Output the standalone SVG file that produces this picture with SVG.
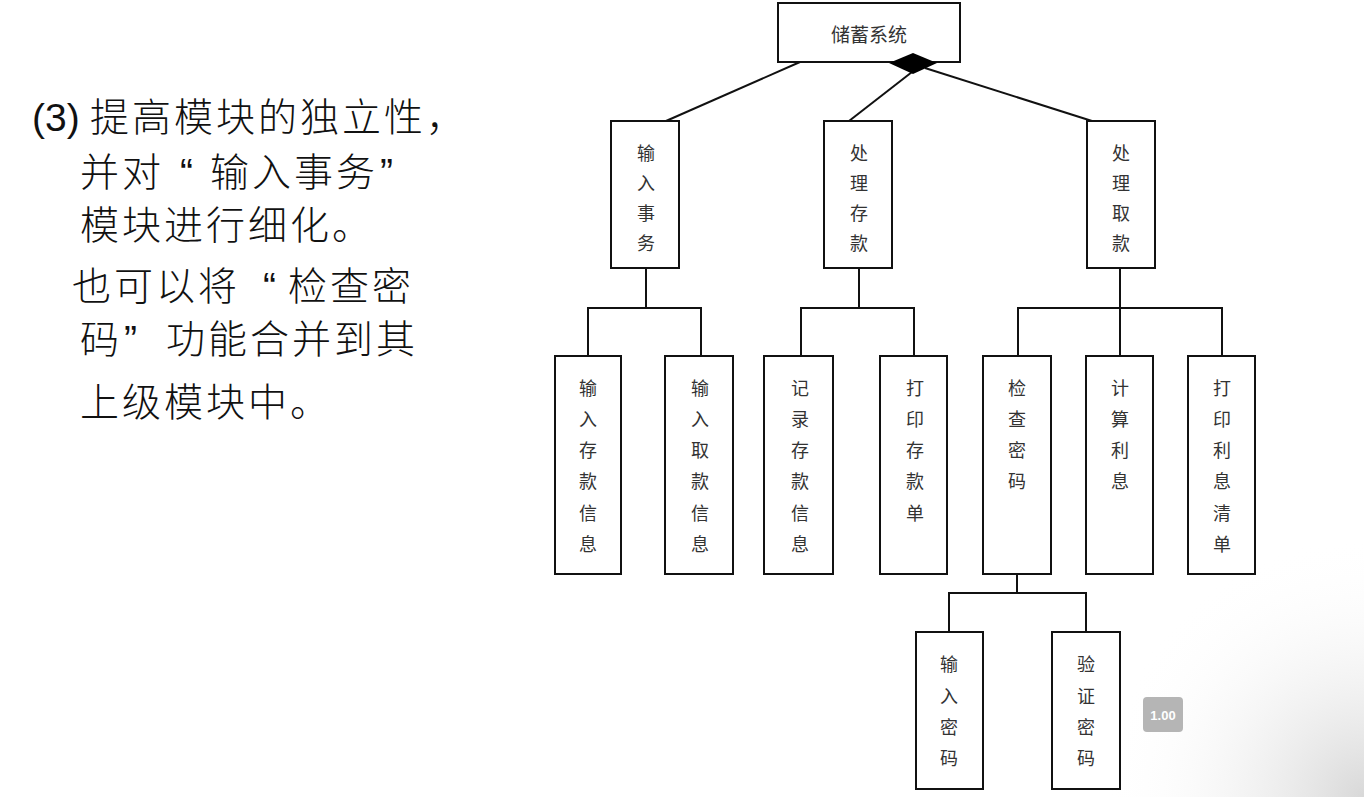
<svg xmlns="http://www.w3.org/2000/svg" width="1364" height="797" viewBox="0 0 1364 797">
<defs>
<style>
.box{fill:#fff;stroke:#111;stroke-width:2}
.ln{fill:none;stroke:#111;stroke-width:2}
.bt{font-family:"Noto Sans CJK SC","Noto Sans",sans-serif;font-size:18px;fill:#333;text-anchor:middle;dominant-baseline:central}
.lt{font-family:"Liberation Sans","Noto Sans CJK SC",sans-serif;font-size:39px;font-weight:300;fill:#111;letter-spacing:3px}
</style>
<radialGradient id="shade" cx="1364" cy="797" r="260" gradientUnits="userSpaceOnUse">
<stop offset="0" stop-color="#d8d8d8"/>
<stop offset="1" stop-color="#ffffff" stop-opacity="0"/>
</radialGradient>
</defs>
<rect width="1364" height="797" fill="#fff"/>
<rect x="1100" y="537" width="264" height="260" fill="url(#shade)"/>

<g id="description">
<text class="lt" x="32" y="131" style="letter-spacing:0">(3)</text>
<text class="lt" x="90" y="131">提高模块的独立性，</text>
<text class="lt" y="186"><tspan x="80">并对</tspan><tspan x="180">“</tspan><tspan x="210">输入事务</tspan><tspan x="380">”</tspan></text>
<text class="lt" x="80" y="239">模块进行细化。</text>
<text class="lt" y="300"><tspan x="72">也可以将</tspan><tspan x="263">“</tspan><tspan x="288">检查密</tspan></text>
<text class="lt" y="353"><tspan x="80">码</tspan><tspan x="124">”</tspan><tspan x="166">功能合并到其</tspan></text>
<text class="lt" x="80" y="416">上级模块中。</text>
</g>

<g id="connectors">
<line class="ln" x1="800" y1="62" x2="666" y2="121"/>
<line class="ln" x1="912" y1="72" x2="849" y2="121"/>
<line class="ln" x1="925" y1="68" x2="1092" y2="121"/>
<polyline class="ln" points="646,268 646,308"/>
<polyline class="ln" points="588,356 588,308 701,308 701,356"/>
<polyline class="ln" points="859,268 859,308"/>
<polyline class="ln" points="801,356 801,308 914,308 914,356"/>
<polyline class="ln" points="1120,268 1120,356"/>
<polyline class="ln" points="1018,356 1018,308 1222,308 1222,356"/>
<polyline class="ln" points="1017,574 1017,593"/>
<polyline class="ln" points="949,632 949,593 1086,593 1086,632"/>
</g>

<g id="root">
<rect class="box" x="778" y="3" width="182" height="59"/>
<text class="bt" x="869" y="33" style="font-size:19px">储蓄系统</text>
<polygon points="913,53 937,63 913,74 889,63" fill="#000"/>
</g>

<g id="n-input">
<rect class="box" x="611" y="121" width="68" height="147"/>
<text class="bt" x="646" y="152">输</text><text class="bt" x="646" y="182">入</text><text class="bt" x="646" y="212">事</text><text class="bt" x="646" y="242">务</text>
</g>
<g id="n-deposit">
<rect class="box" x="824" y="121" width="68" height="147"/>
<text class="bt" x="859" y="152">处</text><text class="bt" x="859" y="182">理</text><text class="bt" x="859" y="212">存</text><text class="bt" x="859" y="242">款</text>
</g>
<g id="n-withdraw">
<rect class="box" x="1087" y="121" width="68" height="147"/>
<text class="bt" x="1121" y="152">处</text><text class="bt" x="1121" y="182">理</text><text class="bt" x="1121" y="212">取</text><text class="bt" x="1121" y="242">款</text>
</g>

<g id="n-in-dep">
<rect class="box" x="555" y="356" width="66" height="218"/>
<text class="bt" x="588" y="387">输</text><text class="bt" x="588" y="418">入</text><text class="bt" x="588" y="449">存</text><text class="bt" x="588" y="480">款</text><text class="bt" x="588" y="512">信</text><text class="bt" x="588" y="543">息</text>
</g>
<g id="n-in-wd">
<rect class="box" x="665" y="356" width="68" height="218"/>
<text class="bt" x="700" y="387">输</text><text class="bt" x="700" y="418">入</text><text class="bt" x="700" y="449">取</text><text class="bt" x="700" y="480">款</text><text class="bt" x="700" y="512">信</text><text class="bt" x="700" y="543">息</text>
</g>
<g id="n-rec-dep">
<rect class="box" x="764" y="356" width="69" height="218"/>
<text class="bt" x="800" y="387">记</text><text class="bt" x="800" y="418">录</text><text class="bt" x="800" y="449">存</text><text class="bt" x="800" y="480">款</text><text class="bt" x="800" y="512">信</text><text class="bt" x="800" y="543">息</text>
</g>
<g id="n-print-dep">
<rect class="box" x="880" y="356" width="67" height="218"/>
<text class="bt" x="915" y="387">打</text><text class="bt" x="915" y="418">印</text><text class="bt" x="915" y="449">存</text><text class="bt" x="915" y="480">款</text><text class="bt" x="915" y="512">单</text>
</g>
<g id="n-check">
<rect class="box" x="983" y="356" width="68" height="218"/>
<text class="bt" x="1017" y="387">检</text><text class="bt" x="1017" y="418">查</text><text class="bt" x="1017" y="449">密</text><text class="bt" x="1017" y="480">码</text>
</g>
<g id="n-calc">
<rect class="box" x="1086" y="356" width="67" height="218"/>
<text class="bt" x="1120" y="387">计</text><text class="bt" x="1120" y="418">算</text><text class="bt" x="1120" y="449">利</text><text class="bt" x="1120" y="480">息</text>
</g>
<g id="n-print-int">
<rect class="box" x="1188" y="356" width="67" height="218"/>
<text class="bt" x="1222" y="387">打</text><text class="bt" x="1222" y="418">印</text><text class="bt" x="1222" y="449">利</text><text class="bt" x="1222" y="480">息</text><text class="bt" x="1222" y="512">清</text><text class="bt" x="1222" y="543">单</text>
</g>

<g id="n-in-pwd">
<rect class="box" x="916" y="632" width="67" height="157"/>
<text class="bt" x="949" y="663">输</text><text class="bt" x="949" y="695">入</text><text class="bt" x="949" y="726">密</text><text class="bt" x="949" y="757">码</text>
</g>
<g id="n-verify">
<rect class="box" x="1052" y="632" width="68" height="157"/>
<text class="bt" x="1086" y="663">验</text><text class="bt" x="1086" y="695">证</text><text class="bt" x="1086" y="726">密</text><text class="bt" x="1086" y="757">码</text>
</g>

<g id="badge">
<rect x="1143" y="697" width="40" height="35" rx="4" fill="#b5b5b5"/>
<text x="1163" y="715" fill="#fff" style="font-family:'Liberation Sans',sans-serif;font-size:13px;font-weight:bold;text-anchor:middle;dominant-baseline:central">1.00</text>
</g>
</svg>
